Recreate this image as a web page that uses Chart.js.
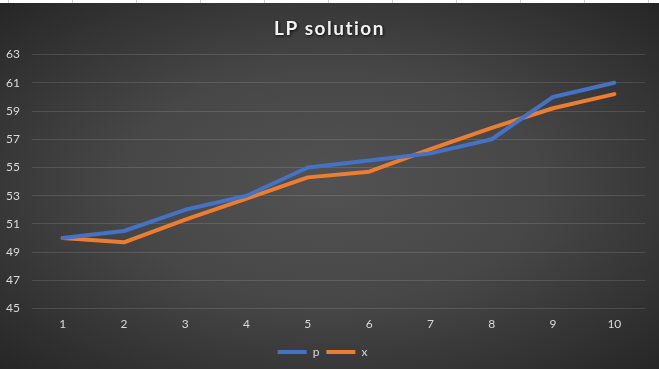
<!DOCTYPE html>
<html>
<head>
<meta charset="utf-8">
<script src="https://cdn.jsdelivr.net/npm/chart.js@4/dist/chart.umd.min.js"></script>
<style>
  html, body { margin: 0; padding: 0; background: #fff; }
  #strip {
    position: absolute; left: 0; top: 0; width: 659px; height: 3px;
    background: repeating-linear-gradient(to right, transparent 0, transparent 8px, #d4d4d4 8px, #d4d4d4 9px, transparent 9px, transparent 64px) #fff;
  }
  #wrap {
    position: absolute; left: 0; top: 3px; width: 659px; height: 366px;
    background: radial-gradient(ellipse farthest-corner at 50% 50%, #525252 0%, #474747 45%, #262626 100%);
  }
</style>
</head>
<body>
<div id="strip"></div>
<div id="wrap"><canvas id="chart" width="659" height="366"></canvas></div>
<script>
const categories = ["1", "2", "3", "4", "5", "6", "7", "8", "9", "10"];
const pValues = [50, 50.5, 52, 53, 55, 55.5, 56, 57, 60, 61];
const xValues = [50, 49.7, 51.3, 52.8, 54.3, 54.7, 56.3, 57.8, 59.2, 60.2];
const yMin = 45;
const yMax = 63;
const yStep = 2;
const titleText = "LP solution";

// draw the title ourselves so it can get letter spacing and a shadow
const titleShadow = {
  id: "titleShadow",
  afterDraw(chart) {
    const ctx = chart.ctx;
    const tb = chart.titleBlock;
    ctx.save();
    ctx.font = "bold 19px Lato";
    ctx.letterSpacing = "1.5px";
    ctx.fillStyle = "#f2f2f2";
    ctx.textAlign = "center";
    ctx.textBaseline = "middle";
    ctx.shadowColor = "rgba(0,0,0,0.8)";
    ctx.shadowBlur = 3;
    ctx.shadowOffsetX = 1;
    ctx.shadowOffsetY = 1.5;
    ctx.fillText(titleText, chart.width / 2, tb.top + tb.height / 2);
    ctx.restore();
  },
};

new Chart(document.getElementById("chart"), {
  type: "line",
  data: {
    labels: categories,
    datasets: [
      { label: "p", data: pValues, borderColor: "#4472C4", backgroundColor: "#4472C4" },
      { label: "x", data: xValues, borderColor: "#ED7D31", backgroundColor: "#ED7D31" },
    ],
  },
  options: {
    responsive: false,
    animation: false,
    layout: { padding: { left: 0, right: 14, top: 0, bottom: 1 } },
    elements: {
      line: { borderWidth: 4, tension: 0, borderCapStyle: "round", borderJoinStyle: "round" },
      point: { radius: 0, hoverRadius: 0 },
    },
    plugins: {
      title: {
        display: true,
        text: titleText,
        color: "rgba(0,0,0,0)",
        font: { family: "Lato", size: 18, weight: "bold" },
        padding: { top: 12, bottom: 18 },
      },
      legend: {
        position: "bottom",
        labels: {
          color: "#d9d9d9",
          font: { family: "Lato", size: 12 },
          boxWidth: 29,
          boxHeight: 4,
          padding: 7,
          generateLabels(chart) {
            return Chart.defaults.plugins.legend.labels.generateLabels(chart).map((l) => {
              l.lineWidth = 0;
              l.fillStyle = l.strokeStyle;
              return l;
            });
          },
        },
      },
      tooltip: { enabled: false },
    },
    scales: {
      x: {
        offset: true,
        grid: { display: false, drawTicks: false },
        border: { display: false },
        ticks: { color: "#d9d9d9", font: { family: "Lato", size: 12 }, padding: 8, maxRotation: 0 },
      },
      y: {
        min: yMin,
        max: yMax,
        afterFit(scale) { scale.width = 32; },
        border: { display: false },
        grid: { color: "rgba(255,255,255,0.12)", drawTicks: false },
        ticks: { stepSize: yStep, color: "#d9d9d9", font: { family: "Lato", size: 12 }, padding: 12 },
      },
    },
  },
  plugins: [titleShadow],
});
</script>
</body>
</html>
